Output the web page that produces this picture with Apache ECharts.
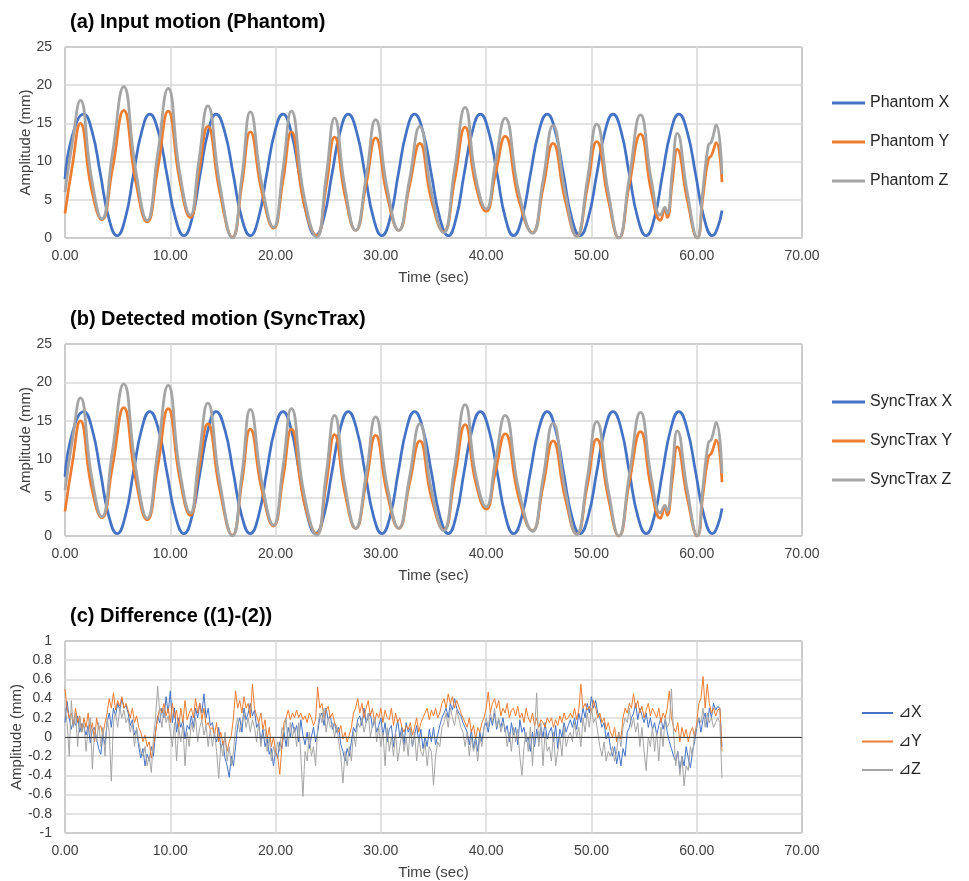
<!DOCTYPE html>
<html>
<head>
<meta charset="utf-8">
<script src="https://cdn.jsdelivr.net/npm/echarts@6/dist/echarts.min.js"></script>
<style>
html, body { margin: 0; padding: 0; background: #fff; }
#main { width: 969px; height: 881px; }
</style>
</head>
<body>
<div id="main"></div>
<script>
// key points (time in sec, amplitude in mm)
var xTime = [0, 0.7,
  1.78, 2.58, 3.37, 4.16, 4.95, 5.73, 6.5, 7.28,
  8.05, 8.87, 9.68, 10.49, 11.3, 12.07, 12.83, 13.59,
  14.35, 15.17, 15.98, 16.79, 17.6, 18.38, 19.15, 19.93,
  20.7, 21.48, 22.25, 23.03, 23.8, 24.58, 25.35, 26.13,
  26.9, 27.7, 28.5, 29.3, 30.1, 30.88, 31.65, 32.43,
  33.2, 34.0, 34.8, 35.6, 36.4, 37.15, 37.9, 38.68,
  39.45, 40.25, 41.05, 41.83, 42.6, 43.4, 44.2, 45.0,
  45.8, 46.58, 47.35, 48.13, 48.9, 49.7, 50.5, 51.28,
  52.05, 52.83, 53.6, 54.4, 55.2, 55.98, 56.75, 57.53,
  58.3, 59.1, 59.9, 60.7, 61.5, 62.0, 62.4];
var phantomX = [7.7, 13.4,
  16.2, 13.9, 8.3, 2.6, 0.3, 2.6, 8.3, 13.9,
  16.2, 13.9, 8.3, 2.6, 0.3, 2.6, 8.3, 13.9,
  16.2, 13.9, 8.3, 2.6, 0.3, 2.6, 8.3, 13.9,
  16.2, 13.9, 8.3, 2.6, 0.3, 2.6, 8.3, 13.9,
  16.2, 13.9, 8.3, 2.6, 0.3, 2.6, 8.3, 13.9,
  16.2, 13.9, 8.3, 2.6, 0.3, 2.6, 8.3, 13.9,
  16.2, 13.9, 8.3, 2.6, 0.3, 2.6, 8.3, 13.9,
  16.2, 13.9, 8.3, 2.6, 0.3, 2.6, 8.3, 13.9,
  16.2, 13.9, 8.3, 2.6, 0.3, 2.6, 8.3, 13.9,
  16.2, 13.9, 8.3, 2.6, 0.3, 1.4, 3.6];

var yzTime = [0, 0.7, 1.46, 2.5, 3.5, 4.5, 5.58, 6.7, 7.8, 8.8, 9.8, 10.9, 11.9, 12.7, 13.56, 14.7, 15.9, 16.8, 17.6, 18.7, 19.8, 20.7, 21.5, 22.7, 23.9, 24.8, 25.6, 26.6, 27.6, 28.6, 29.5, 30.6, 31.7, 32.7, 33.7, 34.8, 35.96, 37.0, 38.0, 39.0, 40.0, 40.9, 41.8, 43.1, 44.4, 45.4, 46.35, 47.5, 48.6, 49.6, 50.5, 51.6, 52.6, 53.6, 54.66, 55.7, 56.56, 56.98, 57.2, 57.7, 58.15, 59.1, 60.05, 60.6, 61.1, 61.4, 61.85, 62.4];
var phantomY = [3.2, 9.5, 15.0, 6.5, 2.4, 9.0, 16.7, 7.5, 2.1, 9.0, 16.6, 7.5, 2.7, 8.5, 14.6, 6.0, 0.1, 7.0, 13.9, 6.0, 1.3, 7.5, 13.9, 4.5, 0.3, 6.7, 13.2, 5.5, 1.0, 7.0, 13.1, 5.5, 1.0, 6.7, 12.4, 5.0, 0.8, 7.5, 14.5, 7.0, 3.5, 8.5, 13.3, 5.0, 0.7, 6.5, 12.4, 5.0, 0.25, 6.5, 12.6, 5.0, 0, 7.0, 13.6, 6.0, 2.3, 3.8, 2.7, 7.5, 11.6, 5.0, 0, 5.5, 10.3, 10.8, 12.5, 7.3];
var phantomZ = [6.0, 12.5, 18.0, 8.0, 2.5, 11.0, 19.8, 9.0, 2.3, 11.0, 19.6, 8.5, 3.0, 10.0, 17.3, 7.0, 0, 8.0, 16.5, 7.0, 1.4, 9.0, 16.6, 5.5, 0.1, 8.0, 15.7, 6.5, 1.0, 8.0, 15.5, 6.5, 1.0, 7.5, 14.6, 6.0, 0.7, 9.0, 17.1, 8.0, 3.8, 10.0, 15.7, 6.0, 0.6, 7.5, 14.7, 6.0, 0.2, 7.5, 14.9, 6.0, 0, 8.0, 16.1, 7.5, 3.0, 4.0, 3.2, 9.0, 13.7, 6.0, 0, 6.5, 12.1, 12.6, 14.8, 8.4];

// panel (b) is indistinguishable from (a) at this scale
var syncX = phantomX.slice();
var syncY = phantomY.slice();
var syncZ = phantomZ.slice();
syncY[syncY.length - 1] = 7.0;
syncZ[syncZ.length - 1] = 8.2;

// differences, one sample every 0.2 s from 0 to 62.4
var diffStep = 0.2;
var diffX = [
  .15,.37,.2,.08,.18,.12,.22,.05,.14,.1,
  .02,.12,-.06,.08,.1,-.02,-.12,-.18,.02,-.08,
  .15,.25,.1,.3,.22,.35,.28,.4,.3,.33,
  .25,.12,.18,.02,.08,-.1,-.22,-.12,-.3,-.18,
  -.25,-.1,-.2,.05,.22,.15,.3,.2,.42,.25,
  .48,.15,.3,.05,.2,.1,.18,-.02,.12,.08,
  .22,.1,.3,.2,.35,.25,.45,.2,.3,.12,
  .15,.02,-.05,.1,-.12,-.05,-.22,-.3,-.42,-.2,
  -.3,-.1,.12,.2,.05,.3,.18,.25,.35,.22,
  .28,.1,.15,-.05,.08,-.1,-.02,-.18,-.12,-.3,
  -.15,-.22,-.05,-.12,.05,-.1,.1,0,.15,.05,
  .12,-.05,.18,.02,-.08,.05,-.12,0,.1,-.05,
  .05,.2,.25,.12,.3,.18,.22,.08,.15,.05,
  .1,-.08,-.15,-.25,-.12,-.2,-.05,.1,.05,.18,
  .22,.12,.3,.15,.2,.25,.1,.18,.05,.12,
  .2,.02,.15,-.05,.08,.12,-.1,.05,.18,0,
  .1,-.08,.15,.05,.1,-.1,.02,.12,-.05,.08,
  -.12,0,-.1,.08,-.05,.1,-.08,.02,.12,.2,
  .25,.3,.2,.35,.28,.4,.3,.25,.22,.15,
  .1,.05,-.08,.08,-.12,0,-.15,.05,-.05,.1,
  .15,.05,.2,.12,.25,.08,.18,.1,.2,.05,
  .12,-.05,.15,.02,.1,-.08,.18,.05,.1,-.05,
  0,-.15,.05,-.1,.08,-.05,.1,0,.15,-.02,
  .05,.1,-.05,.12,-.12,.08,0,.15,.05,.12,
  .18,.1,.2,.08,.25,.15,.3,.2,.35,.25,
  .42,.3,.38,.25,.2,.1,.15,-.02,.05,-.1,
  -.2,-.1,-.28,-.15,-.3,-.12,-.2,.05,.1,.2,
  .25,.35,.18,.3,.22,.15,.25,.1,.2,.08,
  .15,.02,.12,.2,.08,.18,.05,-.05,-.12,-.2,
  -.25,-.15,-.35,-.2,-.3,-.1,-.22,-.32,-.15,-.05,
  .1,.2,.05,.18,.25,.1,.3,.2,.35,.28,
  .32,.3,-.1
];
var diffY = [
  .5,.3,.2,.25,.12,.3,.15,.22,.05,.2,
  .1,.25,.05,.15,-.05,.2,.08,.12,.02,.15,
  .25,.4,.3,.46,.28,.38,.32,.42,.3,.35,
  .28,.2,.3,.15,.22,.1,.05,-.05,.02,-.1,
  -.05,-.22,-.1,.05,.2,.3,.25,.35,.22,.3,
  .15,.35,.2,.28,.1,.3,.15,.38,.18,.25,
  .3,.2,.4,.25,.35,.18,.3,.12,.15,.08,
  .1,.02,.15,-.05,.05,-.08,0,-.15,-.05,.02,
  .2,.48,.3,.38,.25,.42,.3,.35,.2,.55,
  .3,.22,.15,.25,.08,.18,-.02,.1,-.1,0,
  -.15,-.2,-.39,-.1,.15,.2,.28,.18,.25,.2,
  .28,.2,.25,.18,.22,.15,.25,.2,.12,.18,
  .52,.3,.35,.2,.28,.32,.2,.25,.15,.1,
  .05,.12,-.02,.05,-.05,.02,.1,.25,.3,.4,
  .25,.35,.2,.3,.38,.22,.3,.15,.25,.2,
  .3,.15,.28,.2,.18,.3,.12,.25,.15,.2,
  .1,.05,.12,.08,.15,.02,.1,.2,.05,.15,
  .2,.25,.3,.18,.28,.22,.3,.2,.25,.35,
  .4,.3,.45,.35,.42,.3,.38,.32,.25,.2,
  .15,.1,.2,.05,.12,-.02,.1,.05,.15,.2,
  .3,.47,.25,.35,.4,.3,.38,.22,.3,.25,
  .35,.2,.28,.3,.22,.32,.2,.25,.15,.3,
  .2,.15,.25,.12,.2,.1,.18,.15,.1,.2,
  .15,.2,.1,.18,.12,.22,.15,.25,.18,.2,
  .25,.2,.3,.18,.28,.55,.3,.35,.28,.32,
  .25,.38,.3,.2,.25,.15,.2,.08,.15,.05,
  0,.1,-.05,.05,-.02,.2,.3,.25,.35,.3,
  .45,.3,.38,.25,.32,.2,.28,.35,.22,.3,
  .25,.2,.3,.15,.25,.2,.3,.48,.2,.1,
  .05,.15,-.05,.1,0,.08,-.05,.05,.1,0,
  .15,.35,.4,.63,.3,.55,.35,.25,.3,.22,
  .28,.3,-.15
];
var diffZ = [
  .3,.15,-.2,.38,.1,.25,-.1,.2,.05,.15,
  -.15,.1,.2,-.33,.05,-.05,.15,-.1,.1,-.2,
  .2,.05,-.46,.15,.25,.1,.3,.2,.28,.15,
  .2,.05,.15,-.1,.1,-.05,-.15,-.2,-.1,-.3,
  -.2,-.37,0,.2,.53,.25,.1,.3,.15,.22,
  .05,-.1,.15,-.25,.1,-.05,.12,-.3,.05,-.1,
  .15,.05,.2,-.05,.1,.18,.02,.12,-.1,.08,
  -.1,.05,-.15,-.43,-.08,-.2,.05,-.25,-.1,-.3,
  -.15,.1,.2,.05,.15,.25,.1,.2,.05,.18,
  .1,-.05,.15,-.1,.05,.08,-.15,0,-.25,-.1,
  -.2,-.05,-.15,.1,.05,.2,-.1,.15,0,.1,
  -.1,.15,-.2,-.62,-.15,-.25,.05,-.2,-.1,-.3,
  .1,.25,.15,.3,.05,.2,.1,.15,0,.12,
  -.05,-.2,-.48,-.15,-.3,-.1,-.25,.05,-.1,.15,
  .1,.2,.05,.15,.25,0,.12,.2,-.05,.1,
  -.1,.05,-.3,.1,-.15,0,-.2,.05,-.25,-.1,
  .05,-.15,0,-.2,.1,-.1,.05,-.25,0,-.15,
  -.2,-.05,-.3,-.1,-.15,-.5,-.2,-.05,-.1,.1,
  .15,.25,.1,.3,.2,.12,.28,.2,.1,.05,
  -.1,.05,-.2,0,-.15,-.05,-.25,0,-.1,.1,
  .2,.1,.25,.15,.3,.1,.2,.05,.15,.1,
  -.1,.05,-.15,.1,-.05,.08,-.2,-.4,-.1,.05,
  -.15,.1,-.3,.05,.46,-.1,.15,-.3,.05,-.15,
  -.1,-.25,.05,-.3,-.15,0,-.2,.1,-.1,0,
  .05,-.05,.15,0,.1,-.1,.2,.05,.25,.1,
  .3,.15,.2,.05,-.1,-.2,-.05,-.25,-.15,-.2,
  -.1,-.25,-.15,.05,-.1,.1,.2,.15,.3,.1,
  .2,.05,.15,-.1,.1,-.15,-.35,0,-.1,.1,
  -.15,.05,-.25,.1,-.1,.2,.1,.15,.5,.05,
  -.3,-.15,-.4,-.2,-.51,-.3,-.35,-.1,-.2,.05,
  .1,.2,.15,.3,.1,.25,.15,.2,.1,.15,
  .2,.15,-.43
];

var BLUE = '#4472C4', ORANGE = '#ED7D31', GRAY = '#A5A5A5';
var FONT = 'Liberation Sans, Arial, sans-serif';

function pairs(t, v) {
  return v.map(function (y, i) { return [t[i], y]; });
}
function sampled(v) {
  return v.map(function (y, i) { return [+(i * diffStep).toFixed(2), y]; });
}

var myChart = echarts.init(document.getElementById('main'));

var grids = [
  {left: 65, top: 47, width: 737, height: 191},
  {left: 65, top: 344, width: 737, height: 192},
  {left: 65, top: 641, width: 737, height: 192}
];

function makeX(i) {
  return {
    type: 'value', gridIndex: i, min: 0, max: 70, interval: 10,
    name: 'Time (sec)', nameLocation: 'middle', nameGap: 32, nameMoveOverlap: false,
    nameTextStyle: {fontSize: 15, color: '#404040', fontFamily: FONT},
    axisLine: {show: false, onZero: false}, axisTick: {show: false},
    axisLabel: {margin: 11, fontSize: 14, color: '#404040', fontFamily: FONT,
      formatter: function (v) { return v.toFixed(2); }},
    splitLine: {show: true, lineStyle: {color: '#d9d9d9', width: 1.5}}
  };
}
function makeY(i, min, max, step, gap) {
  return {
    type: 'value', gridIndex: i, min: min, max: max, interval: step,
    name: 'Amplitude (mm)', nameLocation: 'middle', nameGap: gap, nameMoveOverlap: false,
    nameTextStyle: {fontSize: 15, color: '#404040', fontFamily: FONT},
    axisLine: {show: false}, axisTick: {show: false},
    axisLabel: {margin: 13, fontSize: 14, color: '#404040', fontFamily: FONT},
    splitLine: {show: true, lineStyle: {color: '#d9d9d9', width: 1.5}}
  };
}

function motion(name, color, data, i) {
  return {
    name: name, type: 'line', xAxisIndex: i, yAxisIndex: i,
    data: data, smooth: 0.5, symbol: 'none', showSymbol: false,
    lineStyle: {color: color, width: 2.75}, itemStyle: {color: color},
    animation: false
  };
}
function diff(name, color, data) {
  return {
    name: name, type: 'line', xAxisIndex: 2, yAxisIndex: 2,
    data: data, symbol: 'none', showSymbol: false,
    lineStyle: {color: color, width: 1}, itemStyle: {color: color},
    animation: false
  };
}

var series = [
  motion('Phantom X', BLUE, pairs(xTime, phantomX), 0),
  motion('Phantom Y', ORANGE, pairs(yzTime, phantomY), 0),
  motion('Phantom Z', GRAY, pairs(yzTime, phantomZ), 0),
  motion('SyncTrax X', BLUE, pairs(xTime, syncX), 1),
  motion('SyncTrax Y', ORANGE, pairs(yzTime, syncY), 1),
  motion('SyncTrax Z', GRAY, pairs(yzTime, syncZ), 1),
  diff('⊿X', BLUE, sampled(diffX)),
  diff('⊿Y', ORANGE, sampled(diffY)),
  diff('⊿Z', GRAY, sampled(diffZ))
];
// zero line in panel (c)
series[6].markLine = {
  silent: true, symbol: 'none', label: {show: false},
  lineStyle: {color: '#404040', width: 1, type: 'solid'},
  data: [{yAxis: 0}]
};

function legendBlock(names, left, top, gap, w, h) {
  return {
    data: names, orient: 'vertical', left: left, top: top,
    itemGap: gap, itemWidth: w, itemHeight: h, padding: 0,
    icon: 'rect',
    textStyle: {fontSize: 16, lineHeight: 16, color: '#262626', fontFamily: FONT},
    selectedMode: false
  };
}

function titleBlock(text, top) {
  return {
    text: text, left: 70, top: top, padding: 0,
    textStyle: {fontSize: 20, fontWeight: 'bold', color: '#000', fontFamily: FONT}
  };
}

var option = {
  backgroundColor: '#fff',
  animation: false,
  title: [
    titleBlock('(a) Input motion (Phantom)', 12),
    titleBlock('(b) Detected motion (SyncTrax)', 309),
    titleBlock('(c) Difference ((1)-(2))', 606)
  ],
  legend: [
    legendBlock(['Phantom X', 'Phantom Y', 'Phantom Z'], 832, 95, 23, 33, 3),
    legendBlock(['SyncTrax X', 'SyncTrax Y', 'SyncTrax Z'], 832, 394, 23, 33, 3),
    legendBlock(['⊿X', '⊿Y', '⊿Z'], 862, 705, 12.5, 31, 2)
  ],
  grid: grids.map(function (g) {
    return Object.assign({show: true, borderColor: '#595959', borderWidth: 1,
      backgroundColor: 'transparent', containLabel: false, outerBoundsMode: 'none'}, g);
  }),
  xAxis: [makeX(0), makeX(1), makeX(2)],
  yAxis: [makeY(0, 0, 25, 5, 32), makeY(1, 0, 25, 5, 32), makeY(2, -1, 1, 0.2, 41)],
  series: series
};

myChart.setOption(option);
</script>
</body>
</html>
